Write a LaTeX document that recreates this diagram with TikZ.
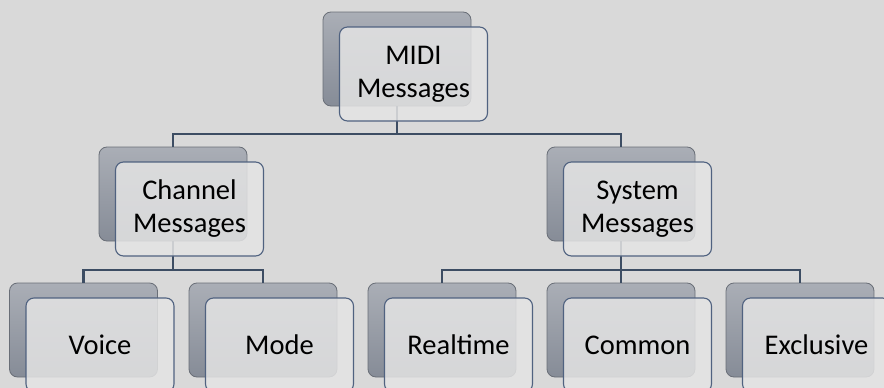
\documentclass[tikz,border=0pt]{standalone}
\usepackage{fontspec}
\setmainfont{Carlito}
\usepackage{tikz}
\usetikzlibrary{positioning}
\definecolor{pagegray}{RGB}{217,217,217}
\definecolor{backtop}{RGB}{170,174,182}
\definecolor{backbot}{RGB}{134,140,151}
\definecolor{backedge}{RGB}{105,110,119}
\definecolor{frontfill}{RGB}{228,228,228}
\definecolor{frontedge}{RGB}{80,98,128}
\definecolor{linkblue}{RGB}{61,77,99}

\tikzset{
  backbox/.style={rectangle,rounded corners=8pt,draw=backedge,line width=0.8pt,
    top color=backtop,bottom color=backbot,minimum width=148pt,minimum height=94pt,inner sep=0pt},
  frontbox/.style={rectangle,rounded corners=8pt,draw=frontedge,line width=1.1pt,
    fill=frontfill,fill opacity=0.85,text opacity=1,minimum width=148pt,minimum height=94pt,
    inner sep=0pt,align=center,font=\fontsize{28.5}{33}\selectfont},
  link/.style={draw=linkblue,line width=2.8pt}
}

\begin{document}
\begin{tikzpicture}[x=1pt,y=-1pt]
\fill[pagegray] (0,0) rectangle (884,388);
\useasboundingbox (0,0) rectangle (884,388);

% Back plates
\node[backbox] (midi-b) at (397,59) {};
\node[backbox] (chan-b) at (173,194) {};
\node[backbox] (sys-b) at (621,194) {};
\foreach \n/\x in {voice/83.5,mode/263,real/442,common/621,excl/800}
  \node[backbox] (\n-b) at (\x,330) {};

% Junctions on the buses
\coordinate (midi-j) at (397,134);
\coordinate (chan-j) at (173,270);
\coordinate (sys-j) at (621,270);

% Connectors
\foreach \c in {chan,sys}
  \draw[link] (midi-b.south) -- (midi-j) -| (\c-b.north);
\foreach \c in {voice,mode}
  \draw[link] (chan-b.south) -- (chan-j) -| (\c-b.north);
\foreach \c in {real,common,excl}
  \draw[link] (sys-b.south) -- (sys-j) -| (\c-b.north);

% Front cards
\node[frontbox] (midi) at (413.5,74) {MIDI\\Messages};
\node[frontbox] (chan) at (189.5,209) {Channel\\Messages};
\node[frontbox] (sys) at (637.5,209) {System\\Messages};
\foreach \n/\x/\t in {voice/100/Voice,mode/279.5/Mode,real/458.5/Realtime,common/637.5/Common,excl/816.5/Exclusive}
  \node[frontbox] (\n) at (\x,345) {\t};
\end{tikzpicture}
\end{document}
